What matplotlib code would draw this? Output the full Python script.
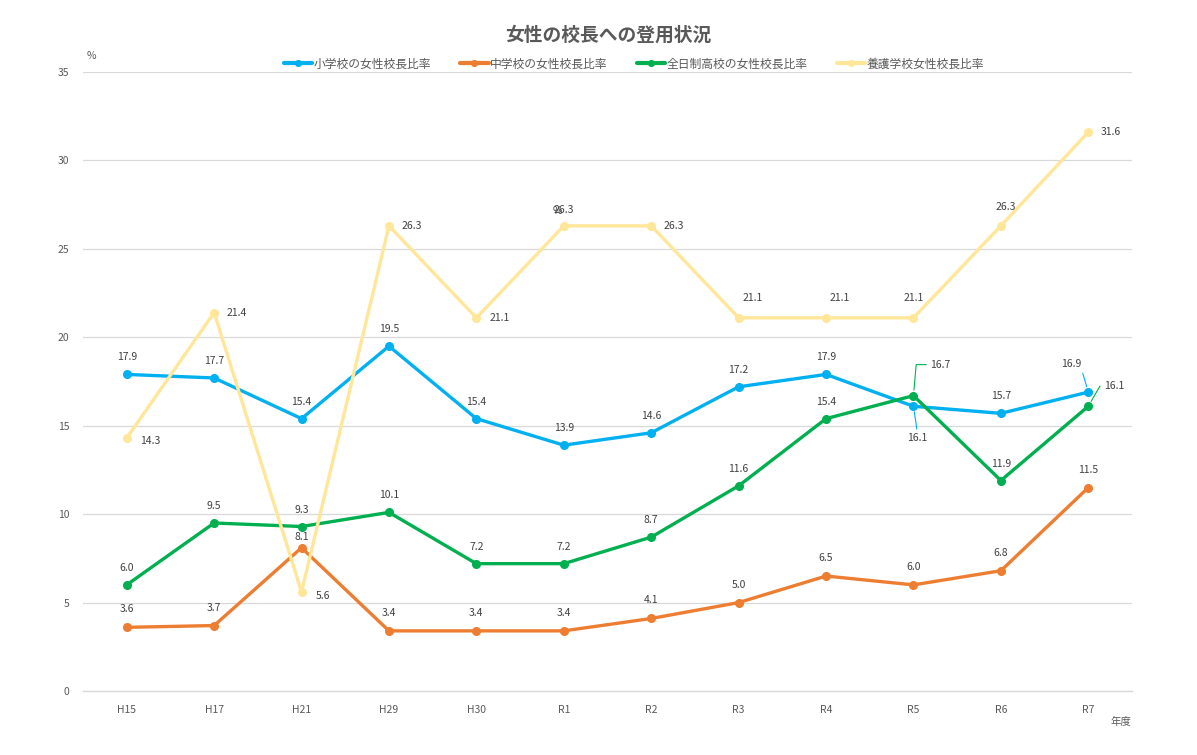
import matplotlib
matplotlib.use('Agg')
import matplotlib.pyplot as plt

plt.rcParams['font.family'] = ['Noto Sans CJK JP', 'DejaVu Sans']

# data
years = ['H15', 'H17', 'H21', 'H29', 'H30', 'R1', 'R2', 'R3', 'R4', 'R5', 'R6', 'R7']
elem = [17.9, 17.7, 15.4, 19.5, 15.4, 13.9, 14.6, 17.2, 17.9, 16.1, 15.7, 16.9]
junior = [3.6, 3.7, 8.1, 3.4, 3.4, 3.4, 4.1, 5.0, 6.5, 6.0, 6.8, 11.5]
high = [6.0, 9.5, 9.3, 10.1, 7.2, 7.2, 8.7, 11.6, 15.4, 16.7, 11.9, 16.1]
special = [14.3, 21.4, 5.6, 26.3, 21.1, 26.3, 26.3, 21.1, 21.1, 21.1, 26.3, 31.6]

names = ['小学校の女性校長比率', '中学校の女性校長比率', '全日制高校の女性校長比率', '養護学校女性校長比率']
colors = ['#00B0F0', '#ED7D31', '#00B050', '#FFE699']
txt = '#595959'

fig = plt.figure(figsize=(11.97, 7.55), dpi=100)
ax = fig.add_axes([83 / 1197, 1 - 691 / 755, (1132 - 83) / 1197, (691 - 72) / 755])

x = list(range(len(years)))
series = [elem, junior, high, special]
for vals, nm, c in zip(series, names, colors):
    ax.plot(x, vals, color=c, lw=2.4, marker='o', ms=5.5, label=nm,
            solid_capstyle='round', zorder=3)

# label offsets in pixels (dx, dy); default above / right
offs = [
    {9: (4, -32), 11: (-17, 28)},
    {2: (0, 11)},
    {9: (17, 31), 11: (16, 20)},
    {0: (23, -3), 2: (21, -4), 5: (0, 16), 7: (14, 20), 8: (14, 20), 9: (0, 20), 10: (5, 19)},
]
default = [(0, 17), (0, 18), (0, 17), (23, 0)]
leaders = {(0, 9): dict(relpos=(0.5, 1.0)), (0, 11): dict(relpos=(1.0, 0.0)),
           (2, 9): dict(relpos=(0.0, 0.5), connectionstyle='angle,angleA=0,angleB=85'),
           (2, 11): dict(relpos=(0.0, 0.5), connectionstyle='angle,angleA=0,angleB=60')}
lefty = {(2, 9), (2, 11)}

for si, vals in enumerate(series):
    for i, v in enumerate(vals):
        dx, dy = offs[si].get(i, default[si])
        ha = 'left' if (si, i) in lefty else 'center'
        kw = {}
        if (si, i) in leaders:
            ap = dict(arrowstyle='-', color=colors[si], lw=0.8, shrinkA=1, shrinkB=4)
            ap.update(leaders[(si, i)])
            kw['arrowprops'] = ap
        ax.annotate(f'{v:.1f}', (i, v), xytext=(dx, dy), textcoords='offset pixels',
                    ha=ha, va='center', fontsize=7.5, color='#404040', zorder=5, **kw)

# stray % sign overlapping R1 label as in original
ax.annotate('%', (5, special[5]), xytext=(-6, 15), textcoords='offset pixels',
            ha='center', va='center', fontsize=7.5, color='#404040')

ax.set_xlim(-0.5, len(years) - 0.5)
ax.set_ylim(0, 35)
ax.set_yticks(range(0, 36, 5))
ax.set_xticks(x)
ax.set_xticklabels(years)
ax.tick_params(length=0, labelsize=7.5, colors=txt, pad=10)
ax.tick_params(axis='y', pad=10)
ax.grid(axis='y', color='#D9D9D9', lw=0.9)
ax.axhline(0, color='#D9D9D9', lw=1.0, clip_on=False, zorder=1)
ax.set_axisbelow(True)
for s in ax.spines.values():
    s.set_visible(False)

fig.text(91 / 1197, 1 - 56 / 755, '%', fontsize=7.5, color=txt, ha='center', va='center')
fig.text(1121 / 1197, 1 - 722 / 755, '年度', fontsize=7.5, color=txt, ha='center', va='center')
fig.text(608 / 1197, 1 - 35 / 755, '女性の校長への登用状況', fontsize=13.5, fontweight='bold',
         color=txt, ha='center', va='center')

leg = fig.legend(loc='center', bbox_to_anchor=(634 / 1197, 1 - 64 / 755), ncol=4, frameon=False,
                 fontsize=8.5, handlelength=2.4, handletextpad=0.15, columnspacing=2.45,
                 labelcolor=txt, markerscale=0.75)
for ln in leg.get_lines():
    ln.set_linewidth(3.0)

fig.savefig('out.png', dpi=100)
